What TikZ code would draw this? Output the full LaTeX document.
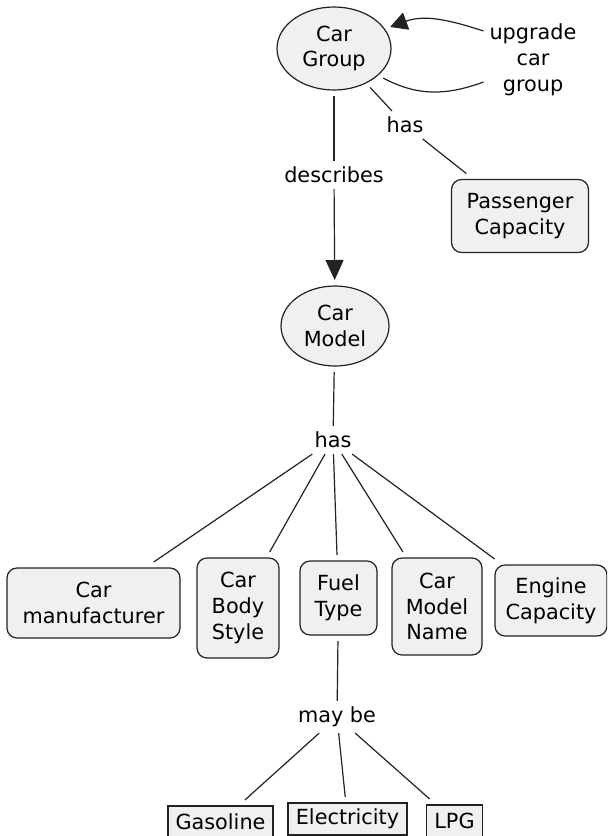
\documentclass[tikz,border=0pt]{standalone}
\usepackage{fontspec}
\setmainfont{DejaVu Sans}
\usetikzlibrary{shapes.geometric,arrows.meta}
\definecolor{boxfill}{HTML}{F0F0F0}
\definecolor{inkc}{HTML}{222222}
\begin{document}
\begin{tikzpicture}[x=0.5pt,y=0.5pt,
  every node/.style={font=\fontsize{10.4}{12.9}\selectfont, text=black, align=center},
  concept/.style={ellipse, draw=inkc, fill=boxfill, line width=0.6pt, inner sep=0pt, outer sep=3pt},
  thing/.style={rectangle, rounded corners=5pt, draw=inkc, fill=boxfill, line width=0.6pt, inner sep=0pt, outer sep=3pt},
  value/.style={rectangle, draw=inkc, fill=boxfill, line width=0.6pt, inner sep=0pt, outer sep=3pt},
  link/.style={inner sep=2pt, outer sep=1pt},
  conn/.style={draw=inkc, line width=0.6pt},
  headed/.style={conn, -{Triangle[length=10pt,width=9pt]}},
  loopback/.style={conn, -{Triangle[length=8.5pt,width=9pt]}},
]
\useasboundingbox (0,0) rectangle (607,-836);
\clip (0,0) rectangle (607,-836);

% concepts
\node[concept, minimum width=57pt, minimum height=41.5pt] (cg) at (334,-48.5) {Car\\Group};
\node[concept, minimum width=54pt, minimum height=40pt] (cm) at (335,-326) {Car\\Model};

% link labels
\node[link] (upg) at (533,-60) {upgrade\\car\\group};
\node[link] (has1) at (405,-125) {has};
\node[link] (desc) at (334,-175) {describes};
\node[link] (has2) at (333,-440) {has};
\node[link] (maybe) at (337,-717) {may be};

% attributes
\node[thing, minimum width=68.5pt, minimum height=36.5pt] (pc) at (520,-216) {Passenger\\Capacity};
\node[thing, minimum width=86.5pt, minimum height=35pt] (cmf) at (93.5,-603) {Car\\manufacturer};
\node[thing, minimum width=41pt, minimum height=50pt] (cbs) at (238,-608) {Car\\Body\\Style};
\node[thing, minimum width=38.5pt, minimum height=37pt] (ft) at (338.5,-598) {Fuel\\Type};
\node[thing, minimum width=45pt, minimum height=48.5pt] (cmn) at (437,-606.5) {Car\\Model\\Name};
\node[thing, minimum width=56pt, minimum height=35.5pt] (ec) at (551,-600.5) {Engine\\Capacity};

% fuel values
\node[value, minimum width=52.5pt, minimum height=16pt] (gas) at (220.5,-822) {Gasoline};
\node[value, minimum width=59.5pt, minimum height=16pt] (ele) at (347.5,-819) {Electricity};
\node[value, minimum width=28pt, minimum height=16pt] (lpg) at (454.5,-821) {LPG};

% connectors
\draw[loopback] ([yshift=14.5pt]upg.west) to[out=162,in=20] (cg.21);
\draw[conn] (cg.-31) to[out=-28,in=200] ([yshift=-11pt]upg.west);
\draw[conn] (cg) -- (has1);
\draw[conn] (has1) -- (pc);
\draw[conn] (cg) -- (desc);
\draw[headed] (desc) -- (cm);
\draw[conn] (cm) -- (has2);
\draw[conn] (has2) -- (cmf);
\draw[conn] (has2) -- (cbs);
\draw[conn] (has2) -- (ft);
\draw[conn] (has2) -- (cmn);
\draw[conn] (has2) -- (ec);
\draw[conn] (ft) -- (maybe);
\draw[conn] (maybe) -- (gas);
\draw[conn] (maybe) -- (ele);
\draw[conn] (maybe) -- (lpg);
\end{tikzpicture}
\end{document}
